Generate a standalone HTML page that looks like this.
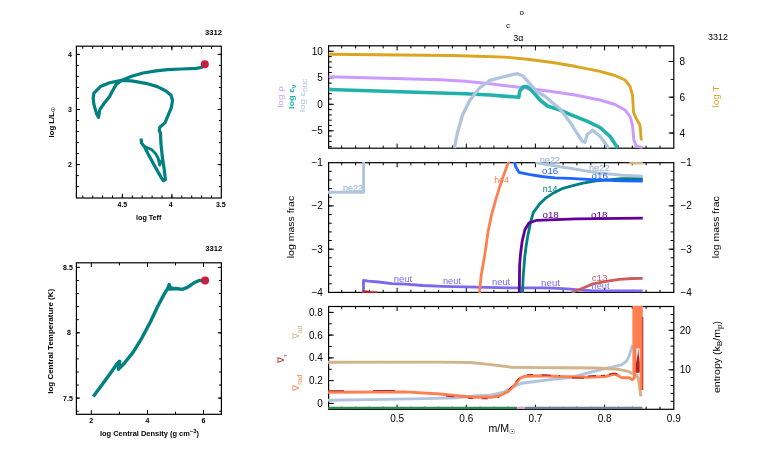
<!DOCTYPE html>
<html><head><meta charset="utf-8"><title>pgstar</title>
<style>
html,body{margin:0;padding:0;background:#fff;}
body{width:766px;height:460px;overflow:hidden;}
svg{display:block;font-family:"Liberation Sans",sans-serif;will-change:transform;}
</style></head>
<body>
<svg width="766" height="460" viewBox="0 0 766 460">
<rect width="766" height="460" fill="#fff"/>
<polyline points="204.8,64.4 202.0,67.2 196.2,68.4 181.8,69.0 167.5,69.7 156.0,70.8 143.0,73.0 131.6,76.3 121.5,80.4 116.1,84.6 112.4,91.0 109.6,96.5 104.4,103.0 99.8,109.6 98.5,117.4 96.5,113.5 93.9,104.4 93.2,98.0 93.9,93.1 100.4,86.6 109.6,82.8 121.5,80.4 131.6,80.9 145.9,83.3 157.4,86.6 166.0,91.0 171.0,95.3 172.5,100.2 171.4,107.4 168.3,114.8 165.1,122.6 159.8,127.2 159.3,130.5 160.5,133.1 160.9,143.0 162.2,156.1 164.2,169.2 165.4,179.6 163.5,180.7 161.6,178.3 155.7,167.9 149.2,156.1 144.6,147.0 141.5,143.0 141.1,138.5" fill="none" stroke="#008080" stroke-width="3.2" stroke-linejoin="round" stroke-linecap="butt" />
<polyline points="144.6,146.5 148.0,148.0 151.8,149.8 155.7,153.7 158.3,158.7 159.7,165.0 161.5,160.0" fill="none" stroke="#008080" stroke-width="2.9" stroke-linejoin="round" stroke-linecap="butt" />
<circle cx="204.8" cy="64.3" r="4" fill="#dc143c"/><rect x="203.6" y="63.6" width="2.4" height="1.4" fill="#008080"/>
<rect x="76.4" y="46.2" width="144.9" height="151.8" fill="none" stroke="#000" stroke-width="1.2"/>
<path d="M82.8 198.0v-2.6M82.8 46.2v2.6" stroke="#000" stroke-width="1"/>
<path d="M92.7 198.0v-2.6M92.7 46.2v2.6" stroke="#000" stroke-width="1"/>
<path d="M102.6 198.0v-2.6M102.6 46.2v2.6" stroke="#000" stroke-width="1"/>
<path d="M112.5 198.0v-2.6M112.5 46.2v2.6" stroke="#000" stroke-width="1"/>
<path d="M122.4 198.0v-2.6M122.4 46.2v2.6" stroke="#000" stroke-width="1"/>
<path d="M132.3 198.0v-2.6M132.3 46.2v2.6" stroke="#000" stroke-width="1"/>
<path d="M142.2 198.0v-2.6M142.2 46.2v2.6" stroke="#000" stroke-width="1"/>
<path d="M152.1 198.0v-2.6M152.1 46.2v2.6" stroke="#000" stroke-width="1"/>
<path d="M162.0 198.0v-2.6M162.0 46.2v2.6" stroke="#000" stroke-width="1"/>
<path d="M171.9 198.0v-2.6M171.9 46.2v2.6" stroke="#000" stroke-width="1"/>
<path d="M181.8 198.0v-2.6M181.8 46.2v2.6" stroke="#000" stroke-width="1"/>
<path d="M191.7 198.0v-2.6M191.7 46.2v2.6" stroke="#000" stroke-width="1"/>
<path d="M201.6 198.0v-2.6M201.6 46.2v2.6" stroke="#000" stroke-width="1"/>
<path d="M211.5 198.0v-2.6M211.5 46.2v2.6" stroke="#000" stroke-width="1"/>
<path d="M122.4 198.0v-4.2M122.4 46.2v4.2" stroke="#000" stroke-width="1"/>
<path d="M171.9 198.0v-4.2M171.9 46.2v4.2" stroke="#000" stroke-width="1"/>
<path d="M76.4 54.4h2.4" stroke="#000" stroke-width="1"/>
<path d="M76.4 65.4h2.4" stroke="#000" stroke-width="1"/>
<path d="M76.4 76.4h2.4" stroke="#000" stroke-width="1"/>
<path d="M76.4 87.5h2.4" stroke="#000" stroke-width="1"/>
<path d="M76.4 98.5h2.4" stroke="#000" stroke-width="1"/>
<path d="M76.4 109.5h2.4" stroke="#000" stroke-width="1"/>
<path d="M76.4 120.5h2.4" stroke="#000" stroke-width="1"/>
<path d="M76.4 131.5h2.4" stroke="#000" stroke-width="1"/>
<path d="M76.4 142.6h2.4" stroke="#000" stroke-width="1"/>
<path d="M76.4 153.6h2.4" stroke="#000" stroke-width="1"/>
<path d="M76.4 164.6h2.4" stroke="#000" stroke-width="1"/>
<path d="M76.4 175.6h2.4" stroke="#000" stroke-width="1"/>
<path d="M76.4 186.6h2.4" stroke="#000" stroke-width="1"/>
<path d="M221.3 54.4h-2.4" stroke="#000" stroke-width="1"/>
<path d="M221.3 65.4h-2.4" stroke="#000" stroke-width="1"/>
<path d="M221.3 76.4h-2.4" stroke="#000" stroke-width="1"/>
<path d="M221.3 87.5h-2.4" stroke="#000" stroke-width="1"/>
<path d="M221.3 98.5h-2.4" stroke="#000" stroke-width="1"/>
<path d="M221.3 109.5h-2.4" stroke="#000" stroke-width="1"/>
<path d="M221.3 120.5h-2.4" stroke="#000" stroke-width="1"/>
<path d="M221.3 131.5h-2.4" stroke="#000" stroke-width="1"/>
<path d="M221.3 142.6h-2.4" stroke="#000" stroke-width="1"/>
<path d="M221.3 153.6h-2.4" stroke="#000" stroke-width="1"/>
<path d="M221.3 164.6h-2.4" stroke="#000" stroke-width="1"/>
<path d="M221.3 175.6h-2.4" stroke="#000" stroke-width="1"/>
<path d="M221.3 186.6h-2.4" stroke="#000" stroke-width="1"/>
<path d="M76.4 54.4h3.6" stroke="#000" stroke-width="1"/>
<path d="M76.4 109.5h3.6" stroke="#000" stroke-width="1"/>
<path d="M76.4 164.6h3.6" stroke="#000" stroke-width="1"/>
<path d="M221.3 54.4h-3.6" stroke="#000" stroke-width="1"/>
<path d="M221.3 109.5h-3.6" stroke="#000" stroke-width="1"/>
<path d="M221.3 164.6h-3.6" stroke="#000" stroke-width="1"/>
<text x="70.0" y="56.9" font-size="7" text-anchor="middle" fill="#000" font-weight="bold" >4</text>
<text x="70.0" y="112.0" font-size="7" text-anchor="middle" fill="#000" font-weight="bold" >3</text>
<text x="70.0" y="167.1" font-size="7" text-anchor="middle" fill="#000" font-weight="bold" >2</text>
<text x="122.4" y="206.7" font-size="7" text-anchor="middle" fill="#000" font-weight="bold" >4.5</text>
<text x="170.8" y="206.7" font-size="7" text-anchor="middle" fill="#000" font-weight="bold" >4</text>
<text x="220.8" y="206.7" font-size="7" text-anchor="middle" fill="#000" font-weight="bold" >3.5</text>
<text x="148.7" y="220.3" font-size="7" text-anchor="middle" fill="#000" font-weight="bold"  textLength="25.4" lengthAdjust="spacingAndGlyphs">log Teff</text>
<text x="53.7" y="122.6" font-size="7" text-anchor="middle" fill="#000" font-weight="bold" transform="rotate(-90 53.7 122.6)"  textLength="29.6" lengthAdjust="spacingAndGlyphs">log L/L<tspan font-size="5" dy="1.5">☉</tspan></text>
<text x="222.0" y="34.8" font-size="7" text-anchor="end" fill="#000" font-weight="bold"  textLength="17" lengthAdjust="spacingAndGlyphs">3312</text>
<polyline points="93.3,396.5 102.6,383.9 111.3,372.0 116.7,364.3 119.6,361.3 118.3,369.3 124.3,363.3 133.0,352.4 141.7,338.3 150.6,321.5 157.4,307.0 163.9,294.6 167.9,288.1 169.2,284.6 170.5,288.7 175.7,288.5 182.2,289.4 187.4,287.4 194.0,282.8 199.2,280.5 205.1,280.6" fill="none" stroke="#008080" stroke-width="3.4" stroke-linejoin="round" stroke-linecap="butt" />
<polygon points="166,291 169,283.6 170.5,286 174,287 174,290" fill="#008080"/>
<circle cx="205.1" cy="280.6" r="4" fill="#dc143c"/><rect x="203.9" y="279.9" width="2.4" height="1.4" fill="#008080"/>
<rect x="76.4" y="262.8" width="145.0" height="151.5" fill="none" stroke="#000" stroke-width="1.2"/>
<path d="M119.4 414.3v-2.6M119.4 262.8v2.6" stroke="#000" stroke-width="1"/>
<path d="M175.5 414.3v-2.6M175.5 262.8v2.6" stroke="#000" stroke-width="1"/>
<path d="M91.3 414.3v-4.2M91.3 262.8v4.2" stroke="#000" stroke-width="1"/>
<path d="M147.5 414.3v-4.2M147.5 262.8v4.2" stroke="#000" stroke-width="1"/>
<path d="M203.5 414.3v-4.2M203.5 262.8v4.2" stroke="#000" stroke-width="1"/>
<path d="M76.4 267.4h2.4" stroke="#000" stroke-width="1"/>
<path d="M76.4 280.5h2.4" stroke="#000" stroke-width="1"/>
<path d="M76.4 293.5h2.4" stroke="#000" stroke-width="1"/>
<path d="M76.4 306.6h2.4" stroke="#000" stroke-width="1"/>
<path d="M76.4 319.7h2.4" stroke="#000" stroke-width="1"/>
<path d="M76.4 332.8h2.4" stroke="#000" stroke-width="1"/>
<path d="M76.4 345.8h2.4" stroke="#000" stroke-width="1"/>
<path d="M76.4 358.9h2.4" stroke="#000" stroke-width="1"/>
<path d="M76.4 372.0h2.4" stroke="#000" stroke-width="1"/>
<path d="M76.4 385.0h2.4" stroke="#000" stroke-width="1"/>
<path d="M76.4 398.1h2.4" stroke="#000" stroke-width="1"/>
<path d="M76.4 411.2h2.4" stroke="#000" stroke-width="1"/>
<path d="M221.4 267.4h-2.4" stroke="#000" stroke-width="1"/>
<path d="M221.4 280.5h-2.4" stroke="#000" stroke-width="1"/>
<path d="M221.4 293.5h-2.4" stroke="#000" stroke-width="1"/>
<path d="M221.4 306.6h-2.4" stroke="#000" stroke-width="1"/>
<path d="M221.4 319.7h-2.4" stroke="#000" stroke-width="1"/>
<path d="M221.4 332.8h-2.4" stroke="#000" stroke-width="1"/>
<path d="M221.4 345.8h-2.4" stroke="#000" stroke-width="1"/>
<path d="M221.4 358.9h-2.4" stroke="#000" stroke-width="1"/>
<path d="M221.4 372.0h-2.4" stroke="#000" stroke-width="1"/>
<path d="M221.4 385.0h-2.4" stroke="#000" stroke-width="1"/>
<path d="M221.4 398.1h-2.4" stroke="#000" stroke-width="1"/>
<path d="M221.4 411.2h-2.4" stroke="#000" stroke-width="1"/>
<path d="M76.4 267.4h3.6" stroke="#000" stroke-width="1"/>
<path d="M76.4 332.8h3.6" stroke="#000" stroke-width="1"/>
<path d="M76.4 398.1h3.6" stroke="#000" stroke-width="1"/>
<path d="M221.4 267.4h-3.6" stroke="#000" stroke-width="1"/>
<path d="M221.4 332.8h-3.6" stroke="#000" stroke-width="1"/>
<path d="M221.4 398.1h-3.6" stroke="#000" stroke-width="1"/>
<text x="72.8" y="269.9" font-size="7" text-anchor="end" fill="#000" font-weight="bold" >8.5</text>
<text x="71.0" y="335.2" font-size="7" text-anchor="end" fill="#000" font-weight="bold" >8</text>
<text x="72.8" y="400.6" font-size="7" text-anchor="end" fill="#000" font-weight="bold" >7.5</text>
<text x="91.3" y="423.2" font-size="7" text-anchor="middle" fill="#000" font-weight="bold" >2</text>
<text x="147.5" y="423.2" font-size="7" text-anchor="middle" fill="#000" font-weight="bold" >4</text>
<text x="203.5" y="423.2" font-size="7" text-anchor="middle" fill="#000" font-weight="bold" >6</text>
<text x="149.5" y="436.0" font-size="7" text-anchor="middle" fill="#000" font-weight="bold"  textLength="99" lengthAdjust="spacingAndGlyphs">log Central Density (g cm<tspan font-size="5.5" dy="-3">−3</tspan><tspan dy="3">)</tspan></text>
<text x="53.3" y="341.3" font-size="7" text-anchor="middle" fill="#000" font-weight="bold" transform="rotate(-90 53.3 341.3)"  textLength="105" lengthAdjust="spacingAndGlyphs">log Central Temperature (K)</text>
<text x="222.3" y="250.5" font-size="7" text-anchor="end" fill="#000" font-weight="bold"  textLength="17" lengthAdjust="spacingAndGlyphs">3312</text>
<rect x="328.6" y="45.8" width="345.19999999999993" height="102.39999999999999" fill="none" stroke="#000" stroke-width="1.2"/>
<path d="M341.7 148.2v-2.6M341.7 45.8v2.6" stroke="#000" stroke-width="1"/>
<path d="M355.6 148.2v-2.6M355.6 45.8v2.6" stroke="#000" stroke-width="1"/>
<path d="M369.4 148.2v-2.6M369.4 45.8v2.6" stroke="#000" stroke-width="1"/>
<path d="M383.2 148.2v-2.6M383.2 45.8v2.6" stroke="#000" stroke-width="1"/>
<path d="M410.9 148.2v-2.6M410.9 45.8v2.6" stroke="#000" stroke-width="1"/>
<path d="M424.8 148.2v-2.6M424.8 45.8v2.6" stroke="#000" stroke-width="1"/>
<path d="M438.6 148.2v-2.6M438.6 45.8v2.6" stroke="#000" stroke-width="1"/>
<path d="M452.4 148.2v-2.6M452.4 45.8v2.6" stroke="#000" stroke-width="1"/>
<path d="M480.1 148.2v-2.6M480.1 45.8v2.6" stroke="#000" stroke-width="1"/>
<path d="M493.9 148.2v-2.6M493.9 45.8v2.6" stroke="#000" stroke-width="1"/>
<path d="M507.8 148.2v-2.6M507.8 45.8v2.6" stroke="#000" stroke-width="1"/>
<path d="M521.6 148.2v-2.6M521.6 45.8v2.6" stroke="#000" stroke-width="1"/>
<path d="M549.3 148.2v-2.6M549.3 45.8v2.6" stroke="#000" stroke-width="1"/>
<path d="M563.1 148.2v-2.6M563.1 45.8v2.6" stroke="#000" stroke-width="1"/>
<path d="M576.9 148.2v-2.6M576.9 45.8v2.6" stroke="#000" stroke-width="1"/>
<path d="M590.8 148.2v-2.6M590.8 45.8v2.6" stroke="#000" stroke-width="1"/>
<path d="M618.5 148.2v-2.6M618.5 45.8v2.6" stroke="#000" stroke-width="1"/>
<path d="M632.3 148.2v-2.6M632.3 45.8v2.6" stroke="#000" stroke-width="1"/>
<path d="M646.1 148.2v-2.6M646.1 45.8v2.6" stroke="#000" stroke-width="1"/>
<path d="M660.0 148.2v-2.6M660.0 45.8v2.6" stroke="#000" stroke-width="1"/>
<path d="M397.1 148.2v-4.6M397.1 45.8v4.6" stroke="#000" stroke-width="1"/>
<path d="M466.3 148.2v-4.6M466.3 45.8v4.6" stroke="#000" stroke-width="1"/>
<path d="M535.4 148.2v-4.6M535.4 45.8v4.6" stroke="#000" stroke-width="1"/>
<path d="M604.6 148.2v-4.6M604.6 45.8v4.6" stroke="#000" stroke-width="1"/>
<path d="M328.6 51.3h3.2" stroke="#000" stroke-width="1"/>
<path d="M328.6 56.6h3.2" stroke="#000" stroke-width="1"/>
<path d="M328.6 61.9h3.2" stroke="#000" stroke-width="1"/>
<path d="M328.6 67.2h3.2" stroke="#000" stroke-width="1"/>
<path d="M328.6 72.5h3.2" stroke="#000" stroke-width="1"/>
<path d="M328.6 77.8h3.2" stroke="#000" stroke-width="1"/>
<path d="M328.6 83.1h3.2" stroke="#000" stroke-width="1"/>
<path d="M328.6 88.4h3.2" stroke="#000" stroke-width="1"/>
<path d="M328.6 93.7h3.2" stroke="#000" stroke-width="1"/>
<path d="M328.6 99.0h3.2" stroke="#000" stroke-width="1"/>
<path d="M328.6 104.3h3.2" stroke="#000" stroke-width="1"/>
<path d="M328.6 109.6h3.2" stroke="#000" stroke-width="1"/>
<path d="M328.6 114.9h3.2" stroke="#000" stroke-width="1"/>
<path d="M328.6 120.2h3.2" stroke="#000" stroke-width="1"/>
<path d="M328.6 125.5h3.2" stroke="#000" stroke-width="1"/>
<path d="M328.6 130.8h3.2" stroke="#000" stroke-width="1"/>
<path d="M328.6 136.1h3.2" stroke="#000" stroke-width="1"/>
<path d="M328.6 141.4h3.2" stroke="#000" stroke-width="1"/>
<path d="M328.6 146.7h3.2" stroke="#000" stroke-width="1"/>
<path d="M328.6 51.3h5.2" stroke="#000" stroke-width="1"/>
<path d="M328.6 77.8h5.2" stroke="#000" stroke-width="1"/>
<path d="M328.6 104.3h5.2" stroke="#000" stroke-width="1"/>
<path d="M328.6 130.8h5.2" stroke="#000" stroke-width="1"/>
<path d="M673.8 61.5h-3.2" stroke="#000" stroke-width="1"/>
<path d="M673.8 79.4h-3.2" stroke="#000" stroke-width="1"/>
<path d="M673.8 97.2h-3.2" stroke="#000" stroke-width="1"/>
<path d="M673.8 115.1h-3.2" stroke="#000" stroke-width="1"/>
<path d="M673.8 133.0h-3.2" stroke="#000" stroke-width="1"/>
<path d="M673.8 61.5h-5.2" stroke="#000" stroke-width="1"/>
<path d="M673.8 97.2h-5.2" stroke="#000" stroke-width="1"/>
<path d="M673.8 133.0h-5.2" stroke="#000" stroke-width="1"/>
<text x="322.8" y="54.8" font-size="10" text-anchor="end" fill="#000" font-weight="normal" >10</text>
<text x="322.8" y="81.3" font-size="10" text-anchor="end" fill="#000" font-weight="normal" >5</text>
<text x="322.8" y="107.8" font-size="10" text-anchor="end" fill="#000" font-weight="normal" >0</text>
<text x="322.8" y="134.3" font-size="10" text-anchor="end" fill="#000" font-weight="normal" >−5</text>
<text x="679.5" y="65.0" font-size="10" text-anchor="start" fill="#000" font-weight="normal" >8</text>
<text x="679.5" y="100.8" font-size="10" text-anchor="start" fill="#000" font-weight="normal" >6</text>
<text x="679.5" y="136.5" font-size="10" text-anchor="start" fill="#000" font-weight="normal" >4</text>
<text x="283.2" y="97.0" font-size="8" text-anchor="middle" fill="#cc99ff" font-weight="normal" transform="rotate(-90 283.2 97.0)"  textLength="21.7" lengthAdjust="spacingAndGlyphs">log ρ</text>
<text x="294.3" y="96.7" font-size="8" text-anchor="middle" fill="#20b2aa" font-weight="bold" transform="rotate(-90 294.3 96.7)"  textLength="24.7" lengthAdjust="spacingAndGlyphs">log ε<tspan font-size="6.5" dy="1.8">ν</tspan></text>
<text x="305.3" y="95.5" font-size="8" text-anchor="middle" fill="#b0c4de" font-weight="normal" transform="rotate(-90 305.3 95.5)"  textLength="33.4" lengthAdjust="spacingAndGlyphs">log ε<tspan font-size="6.5" dy="1.8">nuc</tspan></text>
<text x="719.3" y="96.5" font-size="8.5" text-anchor="middle" fill="#daa520" font-weight="normal" transform="rotate(-90 719.3 96.5)"  textLength="22" lengthAdjust="spacingAndGlyphs">log T</text>
<text x="521.8" y="14.8" font-size="8" text-anchor="middle" fill="#000" font-weight="normal" >o</text>
<text x="507.9" y="27.8" font-size="8" text-anchor="middle" fill="#000" font-weight="normal" >c</text>
<text x="518.3" y="40.8" font-size="9" text-anchor="middle" fill="#000" font-weight="normal" >3α</text>
<text x="728.0" y="40.0" font-size="8.5" text-anchor="end" fill="#000" font-weight="normal"  textLength="20" lengthAdjust="spacingAndGlyphs">3312</text>
<rect x="328.6" y="162.7" width="345.19999999999993" height="129.7" fill="none" stroke="#000" stroke-width="1.2"/>
<path d="M341.7 292.4v-2.6M341.7 162.7v2.6" stroke="#000" stroke-width="1"/>
<path d="M355.6 292.4v-2.6M355.6 162.7v2.6" stroke="#000" stroke-width="1"/>
<path d="M369.4 292.4v-2.6M369.4 162.7v2.6" stroke="#000" stroke-width="1"/>
<path d="M383.2 292.4v-2.6M383.2 162.7v2.6" stroke="#000" stroke-width="1"/>
<path d="M410.9 292.4v-2.6M410.9 162.7v2.6" stroke="#000" stroke-width="1"/>
<path d="M424.8 292.4v-2.6M424.8 162.7v2.6" stroke="#000" stroke-width="1"/>
<path d="M438.6 292.4v-2.6M438.6 162.7v2.6" stroke="#000" stroke-width="1"/>
<path d="M452.4 292.4v-2.6M452.4 162.7v2.6" stroke="#000" stroke-width="1"/>
<path d="M480.1 292.4v-2.6M480.1 162.7v2.6" stroke="#000" stroke-width="1"/>
<path d="M493.9 292.4v-2.6M493.9 162.7v2.6" stroke="#000" stroke-width="1"/>
<path d="M507.8 292.4v-2.6M507.8 162.7v2.6" stroke="#000" stroke-width="1"/>
<path d="M521.6 292.4v-2.6M521.6 162.7v2.6" stroke="#000" stroke-width="1"/>
<path d="M549.3 292.4v-2.6M549.3 162.7v2.6" stroke="#000" stroke-width="1"/>
<path d="M563.1 292.4v-2.6M563.1 162.7v2.6" stroke="#000" stroke-width="1"/>
<path d="M576.9 292.4v-2.6M576.9 162.7v2.6" stroke="#000" stroke-width="1"/>
<path d="M590.8 292.4v-2.6M590.8 162.7v2.6" stroke="#000" stroke-width="1"/>
<path d="M618.5 292.4v-2.6M618.5 162.7v2.6" stroke="#000" stroke-width="1"/>
<path d="M632.3 292.4v-2.6M632.3 162.7v2.6" stroke="#000" stroke-width="1"/>
<path d="M646.1 292.4v-2.6M646.1 162.7v2.6" stroke="#000" stroke-width="1"/>
<path d="M660.0 292.4v-2.6M660.0 162.7v2.6" stroke="#000" stroke-width="1"/>
<path d="M397.1 292.4v-4.6M397.1 162.7v4.6" stroke="#000" stroke-width="1"/>
<path d="M466.3 292.4v-4.6M466.3 162.7v4.6" stroke="#000" stroke-width="1"/>
<path d="M535.4 292.4v-4.6M535.4 162.7v4.6" stroke="#000" stroke-width="1"/>
<path d="M604.6 292.4v-4.6M604.6 162.7v4.6" stroke="#000" stroke-width="1"/>
<path d="M328.6 171.3h3.2" stroke="#000" stroke-width="1"/>
<path d="M328.6 180.0h3.2" stroke="#000" stroke-width="1"/>
<path d="M328.6 188.6h3.2" stroke="#000" stroke-width="1"/>
<path d="M328.6 197.3h3.2" stroke="#000" stroke-width="1"/>
<path d="M328.6 205.9h3.2" stroke="#000" stroke-width="1"/>
<path d="M328.6 214.6h3.2" stroke="#000" stroke-width="1"/>
<path d="M328.6 223.2h3.2" stroke="#000" stroke-width="1"/>
<path d="M328.6 231.9h3.2" stroke="#000" stroke-width="1"/>
<path d="M328.6 240.5h3.2" stroke="#000" stroke-width="1"/>
<path d="M328.6 249.2h3.2" stroke="#000" stroke-width="1"/>
<path d="M328.6 257.8h3.2" stroke="#000" stroke-width="1"/>
<path d="M328.6 266.5h3.2" stroke="#000" stroke-width="1"/>
<path d="M328.6 275.1h3.2" stroke="#000" stroke-width="1"/>
<path d="M328.6 283.8h3.2" stroke="#000" stroke-width="1"/>
<path d="M673.8 171.3h-3.2" stroke="#000" stroke-width="1"/>
<path d="M673.8 180.0h-3.2" stroke="#000" stroke-width="1"/>
<path d="M673.8 188.6h-3.2" stroke="#000" stroke-width="1"/>
<path d="M673.8 197.3h-3.2" stroke="#000" stroke-width="1"/>
<path d="M673.8 205.9h-3.2" stroke="#000" stroke-width="1"/>
<path d="M673.8 214.6h-3.2" stroke="#000" stroke-width="1"/>
<path d="M673.8 223.2h-3.2" stroke="#000" stroke-width="1"/>
<path d="M673.8 231.9h-3.2" stroke="#000" stroke-width="1"/>
<path d="M673.8 240.5h-3.2" stroke="#000" stroke-width="1"/>
<path d="M673.8 249.2h-3.2" stroke="#000" stroke-width="1"/>
<path d="M673.8 257.8h-3.2" stroke="#000" stroke-width="1"/>
<path d="M673.8 266.5h-3.2" stroke="#000" stroke-width="1"/>
<path d="M673.8 275.1h-3.2" stroke="#000" stroke-width="1"/>
<path d="M673.8 283.8h-3.2" stroke="#000" stroke-width="1"/>
<path d="M328.6 205.9h5.2" stroke="#000" stroke-width="1"/>
<path d="M328.6 249.2h5.2" stroke="#000" stroke-width="1"/>
<path d="M673.8 205.9h-5.2" stroke="#000" stroke-width="1"/>
<path d="M673.8 249.2h-5.2" stroke="#000" stroke-width="1"/>
<text x="322.8" y="166.2" font-size="10" text-anchor="end" fill="#000" font-weight="normal" >−1</text>
<text x="680.4" y="166.2" font-size="10" text-anchor="start" fill="#000" font-weight="normal" >−1</text>
<text x="322.8" y="209.4" font-size="10" text-anchor="end" fill="#000" font-weight="normal" >−2</text>
<text x="680.4" y="209.4" font-size="10" text-anchor="start" fill="#000" font-weight="normal" >−2</text>
<text x="322.8" y="252.7" font-size="10" text-anchor="end" fill="#000" font-weight="normal" >−3</text>
<text x="680.4" y="252.7" font-size="10" text-anchor="start" fill="#000" font-weight="normal" >−3</text>
<text x="322.8" y="295.9" font-size="10" text-anchor="end" fill="#000" font-weight="normal" >−4</text>
<text x="680.4" y="295.9" font-size="10" text-anchor="start" fill="#000" font-weight="normal" >−4</text>
<text x="294.2" y="227.0" font-size="9" text-anchor="middle" fill="#000" font-weight="normal" transform="rotate(-90 294.2 227.0)"  textLength="62.5" lengthAdjust="spacingAndGlyphs">log mass frac</text>
<text x="719.5" y="227.3" font-size="9" text-anchor="middle" fill="#000" font-weight="normal" transform="rotate(-90 719.5 227.3)"  textLength="62" lengthAdjust="spacingAndGlyphs">log mass frac</text>
<rect x="328.6" y="306.5" width="345.19999999999993" height="102.80000000000001" fill="none" stroke="#000" stroke-width="1.2"/>
<path d="M341.7 409.3v-2.6M341.7 306.5v2.6" stroke="#000" stroke-width="1"/>
<path d="M355.6 409.3v-2.6M355.6 306.5v2.6" stroke="#000" stroke-width="1"/>
<path d="M369.4 409.3v-2.6M369.4 306.5v2.6" stroke="#000" stroke-width="1"/>
<path d="M383.2 409.3v-2.6M383.2 306.5v2.6" stroke="#000" stroke-width="1"/>
<path d="M410.9 409.3v-2.6M410.9 306.5v2.6" stroke="#000" stroke-width="1"/>
<path d="M424.8 409.3v-2.6M424.8 306.5v2.6" stroke="#000" stroke-width="1"/>
<path d="M438.6 409.3v-2.6M438.6 306.5v2.6" stroke="#000" stroke-width="1"/>
<path d="M452.4 409.3v-2.6M452.4 306.5v2.6" stroke="#000" stroke-width="1"/>
<path d="M480.1 409.3v-2.6M480.1 306.5v2.6" stroke="#000" stroke-width="1"/>
<path d="M493.9 409.3v-2.6M493.9 306.5v2.6" stroke="#000" stroke-width="1"/>
<path d="M507.8 409.3v-2.6M507.8 306.5v2.6" stroke="#000" stroke-width="1"/>
<path d="M521.6 409.3v-2.6M521.6 306.5v2.6" stroke="#000" stroke-width="1"/>
<path d="M549.3 409.3v-2.6M549.3 306.5v2.6" stroke="#000" stroke-width="1"/>
<path d="M563.1 409.3v-2.6M563.1 306.5v2.6" stroke="#000" stroke-width="1"/>
<path d="M576.9 409.3v-2.6M576.9 306.5v2.6" stroke="#000" stroke-width="1"/>
<path d="M590.8 409.3v-2.6M590.8 306.5v2.6" stroke="#000" stroke-width="1"/>
<path d="M618.5 409.3v-2.6M618.5 306.5v2.6" stroke="#000" stroke-width="1"/>
<path d="M632.3 409.3v-2.6M632.3 306.5v2.6" stroke="#000" stroke-width="1"/>
<path d="M646.1 409.3v-2.6M646.1 306.5v2.6" stroke="#000" stroke-width="1"/>
<path d="M660.0 409.3v-2.6M660.0 306.5v2.6" stroke="#000" stroke-width="1"/>
<path d="M397.1 409.3v-4.6M397.1 306.5v4.6" stroke="#000" stroke-width="1"/>
<path d="M466.3 409.3v-4.6M466.3 306.5v4.6" stroke="#000" stroke-width="1"/>
<path d="M535.4 409.3v-4.6M535.4 306.5v4.6" stroke="#000" stroke-width="1"/>
<path d="M604.6 409.3v-4.6M604.6 306.5v4.6" stroke="#000" stroke-width="1"/>
<path d="M328.6 403.4h3.2" stroke="#000" stroke-width="1"/>
<path d="M328.6 392.0h3.2" stroke="#000" stroke-width="1"/>
<path d="M328.6 380.6h3.2" stroke="#000" stroke-width="1"/>
<path d="M328.6 369.3h3.2" stroke="#000" stroke-width="1"/>
<path d="M328.6 357.9h3.2" stroke="#000" stroke-width="1"/>
<path d="M328.6 346.5h3.2" stroke="#000" stroke-width="1"/>
<path d="M328.6 335.1h3.2" stroke="#000" stroke-width="1"/>
<path d="M328.6 323.8h3.2" stroke="#000" stroke-width="1"/>
<path d="M328.6 312.4h3.2" stroke="#000" stroke-width="1"/>
<path d="M328.6 403.4h5.2" stroke="#000" stroke-width="1"/>
<path d="M328.6 380.6h5.2" stroke="#000" stroke-width="1"/>
<path d="M328.6 357.9h5.2" stroke="#000" stroke-width="1"/>
<path d="M328.6 335.1h5.2" stroke="#000" stroke-width="1"/>
<path d="M328.6 312.4h5.2" stroke="#000" stroke-width="1"/>
<path d="M673.8 401.3h-3.2" stroke="#000" stroke-width="1"/>
<path d="M673.8 393.4h-3.2" stroke="#000" stroke-width="1"/>
<path d="M673.8 385.5h-3.2" stroke="#000" stroke-width="1"/>
<path d="M673.8 377.6h-3.2" stroke="#000" stroke-width="1"/>
<path d="M673.8 369.8h-3.2" stroke="#000" stroke-width="1"/>
<path d="M673.8 361.9h-3.2" stroke="#000" stroke-width="1"/>
<path d="M673.8 354.0h-3.2" stroke="#000" stroke-width="1"/>
<path d="M673.8 346.1h-3.2" stroke="#000" stroke-width="1"/>
<path d="M673.8 338.2h-3.2" stroke="#000" stroke-width="1"/>
<path d="M673.8 330.3h-3.2" stroke="#000" stroke-width="1"/>
<path d="M673.8 322.4h-3.2" stroke="#000" stroke-width="1"/>
<path d="M673.8 314.5h-3.2" stroke="#000" stroke-width="1"/>
<path d="M673.8 369.8h-5.2" stroke="#000" stroke-width="1"/>
<path d="M673.8 330.3h-5.2" stroke="#000" stroke-width="1"/>
<text x="322.8" y="406.9" font-size="10" text-anchor="end" fill="#000" font-weight="normal" >0</text>
<text x="322.8" y="384.1" font-size="10" text-anchor="end" fill="#000" font-weight="normal" >0.2</text>
<text x="322.8" y="361.4" font-size="10" text-anchor="end" fill="#000" font-weight="normal" >0.4</text>
<text x="322.8" y="338.6" font-size="10" text-anchor="end" fill="#000" font-weight="normal" >0.6</text>
<text x="322.8" y="315.9" font-size="10" text-anchor="end" fill="#000" font-weight="normal" >0.8</text>
<text x="679.8" y="373.2" font-size="10" text-anchor="start" fill="#000" font-weight="normal" >10</text>
<text x="679.8" y="333.8" font-size="10" text-anchor="start" fill="#000" font-weight="normal" >20</text>
<text x="397.1" y="422.0" font-size="10" text-anchor="middle" fill="#000" font-weight="normal" >0.5</text>
<text x="466.3" y="422.0" font-size="10" text-anchor="middle" fill="#000" font-weight="normal" >0.6</text>
<text x="535.4" y="422.0" font-size="10" text-anchor="middle" fill="#000" font-weight="normal" >0.7</text>
<text x="604.6" y="422.0" font-size="10" text-anchor="middle" fill="#000" font-weight="normal" >0.8</text>
<text x="673.8" y="422.0" font-size="10" text-anchor="middle" fill="#000" font-weight="normal" >0.9</text>
<text x="502.0" y="432.0" font-size="10" text-anchor="middle" fill="#000" font-weight="normal"  textLength="27" lengthAdjust="spacingAndGlyphs">m/M<tspan font-size="6.5" dy="1.8">☉</tspan></text>
<text x="719.8" y="357.0" font-size="9" text-anchor="middle" fill="#000" font-weight="normal" transform="rotate(-90 719.8 357.0)"  textLength="72" lengthAdjust="spacingAndGlyphs">entropy (k<tspan font-size="7" dy="1.8">B</tspan><tspan dy="-1.8">/m</tspan><tspan font-size="7" dy="1.8">p</tspan><tspan dy="-1.8">)</tspan></text>
<text x="298.7" y="339.2" font-size="9" text-anchor="start" fill="#d2b48c" font-weight="normal" transform="rotate(-90 298.7 339.2)"  textLength="13.5" lengthAdjust="spacingAndGlyphs">∇<tspan font-size="7" dy="3.5">ad</tspan></text>
<text x="284.1" y="363.0" font-size="9" text-anchor="start" fill="#b22222" font-weight="normal" transform="rotate(-90 284.1 363.0)" >∇<tspan font-size="4" dy="2.5">T</tspan></text>
<text x="298.7" y="390.8" font-size="9" text-anchor="start" fill="#ff7f50" font-weight="normal" transform="rotate(-90 298.7 390.8)"  textLength="16" lengthAdjust="spacingAndGlyphs">∇<tspan font-size="7" dy="3.5">rad</tspan></text>
<clipPath id="c1"><rect x="328.0" y="45.199999999999996" width="346.3999999999999" height="103.6"/></clipPath>
<g clip-path="url(#c1)">
<polyline points="328.7,76.7 440.0,79.7 465.0,81.3 490.0,83.8 515.0,86.8 540.0,90.0 550.0,91.3 575.0,95.0 600.0,100.0 615.0,104.5 625.0,110.0 630.0,116.3 632.5,125.0 633.8,140.0 636.3,146.0 642.5,147.6" fill="none" stroke="#cc99ff" stroke-width="2.9" stroke-linejoin="round" stroke-linecap="butt" />
<polyline points="328.7,89.5 440.0,93.0 465.0,93.8 490.0,95.0 512.5,96.8 518.8,97.3 519.8,91.0 523.5,86.5 527.5,86.8 532.5,91.3 540.0,100.0 547.5,106.0 560.0,110.0 570.0,114.4 587.5,121.3 600.0,127.5 610.0,136.3 617.8,148.2" fill="none" stroke="#20b2aa" stroke-width="3.6" stroke-linejoin="round" stroke-linecap="butt" />
<polyline points="328.7,54.2 450.0,55.5 477.5,56.3 505.0,57.1 527.5,59.3 552.5,62.5 575.0,66.3 600.0,71.3 615.0,75.5 625.0,80.0 630.0,86.3 632.5,95.0 633.6,112.5 636.3,118.8 640.0,125.0 641.3,140.5" fill="none" stroke="#daa520" stroke-width="2.9" stroke-linejoin="round" stroke-linecap="butt" />
<polyline points="454.3,148.2 457.5,132.5 462.5,115.0 470.0,100.0 480.0,87.5 490.0,80.3 502.5,77.0 512.5,74.7 517.5,73.7 522.5,75.7 530.0,83.8 537.5,92.3 545.0,96.3 552.5,102.7 560.0,108.8 570.0,122.2 577.5,133.8 582.5,141.3 585.0,142.3 587.2,134.5 592.5,130.2 600.0,136.3 608.8,148.2" fill="none" stroke="#b0c4de" stroke-width="3.3" stroke-linejoin="round" stroke-linecap="butt" />
</g>
<clipPath id="c2"><rect x="328.0" y="162.0" width="346.3999999999999" height="131.1"/></clipPath>
<g clip-path="url(#c2)">
<polyline points="363.5,293.0 363.5,280.4 368.3,281.1 378.7,282.0 391.8,283.6 404.9,284.2 423.0,285.5 442.6,286.3 475.3,287.2 510.0,287.8 545.7,287.9 558.7,288.3 570.5,289.2 578.3,289.9 591.4,290.7 642.7,290.8" fill="none" stroke="#7b68ee" stroke-width="2.8" stroke-linejoin="round" stroke-linecap="butt" stroke-linejoin="miter"/>
<polygon points="362.4,293 362.8,290.4 368,290.4 369.5,291.3 377.4,291.4 377.4,293" fill="#b22222"/>
<polyline points="479.4,293.0 481.1,276.1 483.8,260.4 485.8,248.0 488.0,232.0 491.5,215.0 495.5,200.7 499.4,187.6 503.9,174.6 508.7,161.5" fill="none" stroke="#ff7f50" stroke-width="2.8" stroke-linejoin="round" stroke-linecap="butt" />
<polyline points="571.8,292.6 580.0,289.2 584.9,287.2 593.0,283.9 606.1,281.3 619.2,279.4 632.2,278.5 642.7,278.3" fill="none" stroke="#cd5c5c" stroke-width="2.8" stroke-linejoin="round" stroke-linecap="butt" />
<polyline points="522.5,293.0 523.2,276.1 524.8,256.5 526.0,247.0 527.5,237.5 530.8,221.3 533.4,212.4 539.2,204.6 545.7,198.1 553.6,192.9 561.4,188.9 570.0,186.3 583.0,183.1 596.1,180.8 622.2,178.7 642.8,178.7" fill="none" stroke="#008080" stroke-width="2.8" stroke-linejoin="round" stroke-linecap="butt" />
<polyline points="514.2,161.5 515.7,166.7 519.0,172.4 528.7,174.3 541.8,176.5 554.9,177.8 570.0,178.3 596.1,179.8 622.2,180.8 642.8,181.1" fill="none" stroke="#1e64ff" stroke-width="2.8" stroke-linejoin="round" stroke-linecap="butt" />
<polyline points="519.3,293.0 519.6,265.7 520.5,254.0 522.1,241.6 524.9,229.8 528.9,223.0 536.7,220.3 575.8,218.9 642.8,218.2" fill="none" stroke="#62009c" stroke-width="2.8" stroke-linejoin="round" stroke-linecap="butt" />
<polyline points="327.0,192.2 363.6,192.2 363.6,160.0" fill="none" stroke="#b0c4de" stroke-width="2.9" stroke-linejoin="round" stroke-linecap="butt" stroke-linejoin="miter"/>
<polyline points="535.5,162.6 548.3,164.8 561.4,167.0 570.0,168.2 596.1,172.6 622.2,175.2 642.8,176.2" fill="none" stroke="#b0c4de" stroke-width="2.9" stroke-linejoin="round" stroke-linecap="butt" />
</g>
<text x="343.0" y="190.5" font-size="9" text-anchor="start" fill="#b0c4de" font-weight="normal" stroke="#b0c4de" stroke-width="0.3" textLength="20" lengthAdjust="spacingAndGlyphs">ne22</text>
<text x="539.8" y="162.7" font-size="9" text-anchor="start" fill="#b0c4de" font-weight="normal" stroke="#b0c4de" stroke-width="0.3" textLength="20.3" lengthAdjust="spacingAndGlyphs">ne22</text>
<text x="588.9" y="171.1" font-size="9" text-anchor="start" fill="#b0c4de" font-weight="normal" stroke="#b0c4de" stroke-width="0.3" textLength="20.9" lengthAdjust="spacingAndGlyphs">ne22</text>
<text x="494.2" y="182.9" font-size="9" text-anchor="start" fill="#ff7f50" font-weight="normal"  textLength="14.7" lengthAdjust="spacingAndGlyphs">he4</text>
<text x="542.0" y="174.0" font-size="9" text-anchor="start" fill="#1e64ff" font-weight="normal"  textLength="16.3" lengthAdjust="spacingAndGlyphs">o16</text>
<text x="591.5" y="179.0" font-size="9" text-anchor="start" fill="#1e64ff" font-weight="normal"  textLength="16.5" lengthAdjust="spacingAndGlyphs">o16</text>
<text x="542.7" y="192.3" font-size="9" text-anchor="start" fill="#008080" font-weight="normal"  textLength="14.8" lengthAdjust="spacingAndGlyphs">n14</text>
<text x="542.5" y="217.6" font-size="9" text-anchor="start" fill="#62009c" font-weight="normal"  textLength="16.3" lengthAdjust="spacingAndGlyphs">o18</text>
<text x="590.9" y="217.6" font-size="9" text-anchor="start" fill="#62009c" font-weight="normal"  textLength="16.7" lengthAdjust="spacingAndGlyphs">o18</text>
<text x="393.8" y="282.3" font-size="9" text-anchor="start" fill="#7b68ee" font-weight="normal"  textLength="18.2" lengthAdjust="spacingAndGlyphs">neut</text>
<text x="442.9" y="284.1" font-size="9" text-anchor="start" fill="#7b68ee" font-weight="normal"  textLength="18" lengthAdjust="spacingAndGlyphs">neut</text>
<text x="492.0" y="285.1" font-size="9" text-anchor="start" fill="#7b68ee" font-weight="normal"  textLength="18.2" lengthAdjust="spacingAndGlyphs">neut</text>
<text x="541.1" y="286.0" font-size="9" text-anchor="start" fill="#7b68ee" font-weight="normal"  textLength="18.9" lengthAdjust="spacingAndGlyphs">neut</text>
<text x="591.5" y="288.6" font-size="9" text-anchor="start" fill="#7b68ee" font-weight="normal"  textLength="18" lengthAdjust="spacingAndGlyphs">neut</text>
<text x="591.7" y="281.1" font-size="9" text-anchor="start" fill="#cd5c5c" font-weight="normal"  textLength="15.7" lengthAdjust="spacingAndGlyphs">c13</text>
<rect x="629.4" y="162.1" width="13.4" height="2.4" fill="#deb887"/>
<clipPath id="c3"><rect x="328.0" y="305.9" width="346.3999999999999" height="104.00000000000001"/></clipPath>
<g clip-path="url(#c3)">
<polyline points="328.0,400.3 384.5,399.4 425.3,398.6 457.0,397.7 474.0,396.0 490.9,395.2 504.5,391.8 514.7,385.8 521.5,383.3 533.4,381.8 550.4,379.6 560.0,378.5 573.0,377.2 583.5,374.2 593.9,371.3 603.0,369.0 612.2,367.1 621.3,364.8 626.5,361.3 629.1,356.2 631.1,349.6 632.5,345.0" fill="none" stroke="#b0c4de" stroke-width="2.9" stroke-linejoin="round" stroke-linecap="butt" />
<polyline points="328.0,362.3 440.0,362.1 470.6,362.5 490.9,364.6 511.3,367.2 541.9,367.6 560.0,367.7 596.5,368.0 618.7,369.3 627.8,371.3 633.0,373.9 637.0,375.4 638.3,379.1 639.6,387.0 640.9,396.5" fill="none" stroke="#d2b48c" stroke-width="2.9" stroke-linejoin="round" stroke-linecap="butt" />
<polyline points="328.0,392.3 404.9,391.9 440.0,394.0 457.0,395.7 474.0,397.3 490.9,397.3 499.4,395.7 507.9,391.8 514.7,385.0 519.8,378.4 524.9,376.2 541.9,375.8 560.0,376.5 586.0,377.2 605.7,376.5 612.2,374.6 616.0,374.6 621.3,377.6 629.1,377.8 632.4,379.8 634.3,377.8 635.0,370.0" fill="none" stroke="#ff7f50" stroke-width="2.9" stroke-linejoin="round" stroke-linecap="butt" />
<polyline points="328.0,390.8 404.9,390.4 440.0,392.5" fill="none" stroke="#b22222" stroke-width="1.0" stroke-linejoin="round" stroke-linecap="butt" stroke-dasharray="16 29 22 400"/>
<polyline points="440.0,395.5 457.0,397.2 474.0,398.8 490.9,398.8 499.4,397.2" fill="none" stroke="#b22222" stroke-width="1.0" stroke-linejoin="round" stroke-linecap="butt" stroke-dasharray="0 6 8 14 5 9 6 10 7 400"/>
<polyline points="499.4,394.2 507.9,390.3 514.7,383.5 519.8,376.9 524.9,374.7 541.9,374.3" fill="none" stroke="#b22222" stroke-width="1.0" stroke-linejoin="round" stroke-linecap="butt" stroke-dasharray="0 10 5 6 5 9 6 14 7 12 6 400"/>
<polyline points="541.9,374.9 560.0,375.6" fill="none" stroke="#b22222" stroke-width="1.1" stroke-linejoin="round" stroke-linecap="butt" stroke-dasharray="9 8"/>
<polyline points="560.0,377.6 586.0,378.3" fill="none" stroke="#b22222" stroke-width="1.1" stroke-linejoin="round" stroke-linecap="butt" stroke-dasharray="0 12 12 400"/>
<polyline points="586.0,376.0 605.7,375.3 612.2,373.4 616.0,373.4 621.3,376.4 629.1,376.6" fill="none" stroke="#b22222" stroke-width="1.1" stroke-linejoin="round" stroke-linecap="butt" stroke-dasharray="0 2 8 5 4 4 9 400"/>
<path d="M632.4 305.5 H642.8 V390.2 H639.7 V348.5 H636.4 V372.5 H632.4 Z" fill="#ff7f50"/>
<path d="M635.8 372.8 L635.8 364 L637.4 356 L638.2 347.8 L638.9 356 L639.7 362 L639.7 372.8 Z" fill="#b22222"/>
<rect x="642.3" y="317" width="1" height="73" fill="#b22222"/>
<polyline points="328.0,407.8 517.2,407.8" fill="none" stroke="#2e8b57" stroke-width="2.3" stroke-linejoin="round" stroke-linecap="butt" />
<polyline points="517.2,407.8 524.9,407.8" fill="none" stroke="#dda0dd" stroke-width="2.3" stroke-linejoin="round" stroke-linecap="butt" />
<polyline points="524.9,407.8 642.5,407.8" fill="none" stroke="#708090" stroke-width="2.3" stroke-linejoin="round" stroke-linecap="butt" />
</g>
</svg>
</body></html>
